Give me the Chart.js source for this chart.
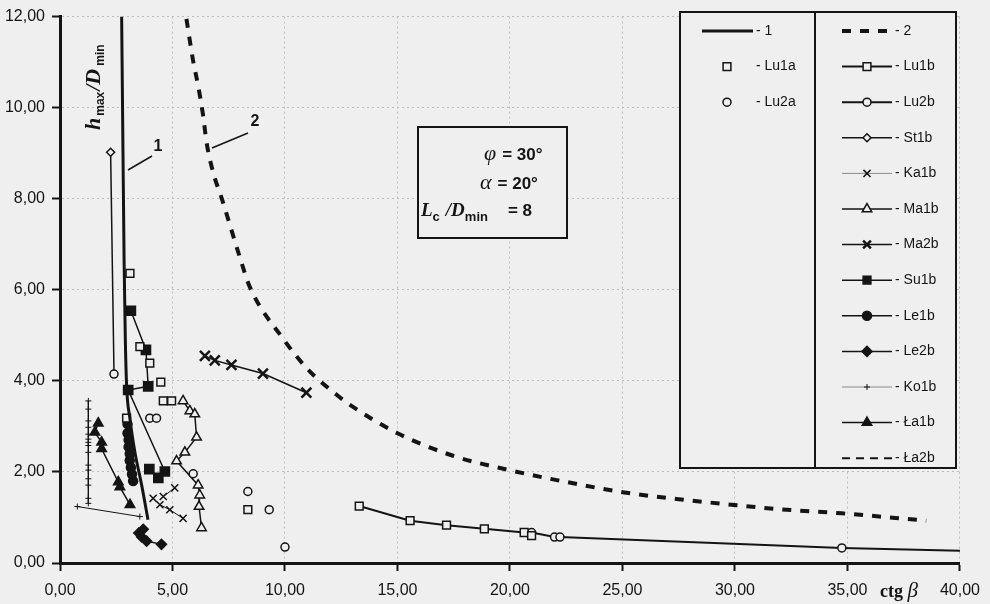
<!DOCTYPE html>
<html>
<head>
<meta charset="utf-8">
<script src="https://cdn.jsdelivr.net/npm/chart.js@4.4.1/dist/chart.umd.min.js"></script>
<style>
  html, body { margin: 0; padding: 0; background: #efefef; }
  canvas { display: block; }
</style>
</head>
<body>
<canvas id="chart" width="990" height="604"></canvas>
<script>
// osie
var xTicks = [0, 5, 10, 15, 20, 25, 30, 35, 40];
var yTicks = [0, 2, 4, 6, 8, 10, 12];

// krzywe graniczne 1 i 2
var c1X = [2.74, 2.80, 2.85, 2.90, 2.96, 3.10, 3.33, 3.63, 3.91];
var c1Y = [12.0, 9.0, 6.6, 5.0, 3.9, 3.2, 2.43, 1.71, 0.95];
var c2X = [5.62, 5.92, 6.14, 6.36, 6.51, 6.80, 7.18, 7.99, 8.43, 9.91, 11.02, 12.28, 12.87, 15.0, 17.5, 19.97, 22.5, 25.08, 27.5, 29.65, 32.0, 34.75, 38.5];
var c2Y = [11.95, 11.02, 10.48, 9.83, 9.25, 8.59, 8.02, 6.72, 6.07, 4.93, 4.25, 3.70, 3.48, 2.85, 2.35, 2.04, 1.78, 1.55, 1.40, 1.29, 1.18, 1.09, 0.93];

// pomiary
var lu1aX = [3.11, 3.55, 3.99, 4.48, 4.59, 4.96, 2.96, 8.35];
var lu1aY = [6.36, 4.75, 4.39, 3.97, 3.56, 3.56, 3.18, 1.17];
var lu2aX = [3.99, 4.29, 5.92, 8.35, 9.30, 10.0];
var lu2aY = [3.18, 3.18, 1.96, 1.57, 1.17, 0.35];
var lu1bX = [13.3, 15.56, 17.18, 18.86, 20.63, 20.96];
var lu1bY = [1.25, 0.93, 0.83, 0.75, 0.67, 0.60];
var lu2bX = [20.96, 21.98, 22.22, 34.75, 40.0];
var lu2bY = [0.67, 0.57, 0.57, 0.33, 0.27];
var st1bX = [2.25, 2.40];
var st1bY = [9.02, 4.15];
var ka1bX = [4.14, 4.44, 4.88, 5.47, null, 4.59, 5.10];
var ka1bY = [1.42, 1.28, 1.17, 0.98, null, 1.46, 1.65];
var ma1bX = [5.47, 5.77, 5.99, 6.07, 5.55, 5.18, 6.14, 6.21, 6.18, 6.29];
var ma1bY = [3.56, 3.34, 3.27, 2.76, 2.43, 2.24, 1.71, 1.49, 1.24, 0.77];
var ma2bX = [6.44, 6.88, 7.62, 9.02, 10.95];
var ma2bY = [4.55, 4.45, 4.35, 4.16, 3.74];
var su1bX = [3.15, 3.82, 3.92, 3.03, 4.66, 4.37, 3.97];
var su1bY = [5.54, 4.68, 3.88, 3.80, 2.01, 1.87, 2.06];
var le1bX = [3.00, 3.00, 3.05, 3.05, 3.10, 3.10, 3.15, 3.20, 3.25];
var le1bY = [3.05, 2.85, 2.70, 2.55, 2.40, 2.25, 2.10, 1.95, 1.80];
var le2bX = [3.70, 3.50, 3.63, 3.85, 4.51];
var le2bY = [0.74, 0.66, 0.57, 0.48, 0.41];
var ko1bX = [1.26, 1.26, 1.26, 1.26, 1.26, 1.26, 1.26, 1.26, 1.26, 1.26, 1.26, 1.26, 1.26, 1.26, 1.26, null, 0.77, 3.55];
var ko1bY = [3.56, 3.38, 3.12, 2.98, 2.83, 2.72, 2.65, 2.58, 2.43, 2.15, 2.04, 1.85, 1.71, 1.42, 1.31, null, 1.24, 1.02];
var la1bX = [1.70, 1.55, 1.85, 1.85, 2.59, 2.66, 3.11];
var la1bY = [3.07, 2.87, 2.65, 2.51, 1.78, 1.67, 1.28];
var la2bX = [];
var la2bY = [];

var BG = '#efefef';
var INK = '#141414';

function pts(xs, ys) {
  var out = [], lastX = 0;
  for (var i = 0; i < xs.length; i++) {
    if (xs[i] === null) { out.push({ x: lastX, y: null }); continue; }
    lastX = xs[i];
    out.push({ x: xs[i], y: ys[i] });
  }
  return out;
}

function series(label, xs, ys, o) {
  var d = {
    label: label,
    data: pts(xs, ys),
    showLine: true,
    borderColor: INK,
    borderWidth: 1.5,
    pointBorderColor: INK,
    pointBackgroundColor: BG,
    pointBorderWidth: 1.5,
    pointRadius: 5,
    pointHoverRadius: 5,
    pointStyle: 'circle',
    spanGaps: false
  };
  for (var k in o) d[k] = o[k];
  return d;
}

var datasets = [
  series('1', c1X, c1Y, { borderWidth: 3, pointRadius: 0, cubicInterpolationMode: 'monotone', col: 0, row: 0 }),
  series('2', c2X, c2Y, { borderWidth: 4, borderDash: [9, 9], pointRadius: 0, cubicInterpolationMode: 'monotone', col: 1, row: 0 }),
  series('Lu1a', lu1aX, lu1aY, { showLine: false, borderWidth: 0, pointStyle: 'rect', pointRadius: 5.5, col: 0, row: 1 }),
  series('Lu2a', lu2aX, lu2aY, { showLine: false, borderWidth: 0, pointRadius: 4, col: 0, row: 2 }),
  series('Lu1b', lu1bX, lu1bY, { borderWidth: 2, pointStyle: 'rect', pointRadius: 5.5, col: 1, row: 1 }),
  series('Lu2b', lu2bX, lu2bY, { borderWidth: 2, pointRadius: function (c) { return c.dataIndex === c.dataset.data.length - 1 ? 0 : 4; }, legendRadius: 4, col: 1, row: 2 }),
  series('St1b', st1bX, st1bY, { pointStyle: ['rectRot', 'circle'], pointRadius: 4, legendStyle: 'rectRot', col: 1, row: 3 }),
  series('Ka1b', ka1bX, ka1bY, { borderWidth: 1, pointStyle: 'crossRot', pointRadius: 5, col: 1, row: 4 }),
  series('Ma1b', ma1bX, ma1bY, { pointStyle: 'triangle', pointRadius: 5.5, col: 1, row: 5 }),
  series('Ma2b', ma2bX, ma2bY, { pointStyle: 'crossRot', pointRadius: 7, pointBorderWidth: 2.5, col: 1, row: 6 }),
  series('Su1b', su1bX, su1bY, { pointStyle: 'rect', pointRadius: 6.5, pointBackgroundColor: INK, col: 1, row: 7 }),
  series('Le1b', le1bX, le1bY, { pointRadius: 4.5, pointBackgroundColor: INK, col: 1, row: 8 }),
  series('Le2b', le2bX, le2bY, { pointStyle: 'rectRot', pointRadius: 5, pointBackgroundColor: INK, col: 1, row: 9 }),
  series('Ko1b', ko1bX, ko1bY, { borderWidth: 1, pointStyle: 'cross', pointRadius: 3, pointBorderWidth: 1, col: 1, row: 10 }),
  series('Ła1b', la1bX, la1bY, { pointStyle: 'triangle', pointRadius: 5.5, pointBackgroundColor: INK, col: 1, row: 11 }),
  series('Ła2b', la2bX, la2bY, { borderWidth: 2, borderDash: [8, 6], pointRadius: 0, col: 1, row: 12 })
];

function fmt(v) { return Number(v).toFixed(2).replace('.', ','); }

function run(ctx, parts, x, y) {
  parts.forEach(function (p) {
    ctx.font = p[1];
    ctx.fillText(p[0], x, y + (p[2] || 0));
    x += ctx.measureText(p[0]).width + (p[3] || 0);
  });
  return x;
}

var SERIF = '"Liberation Serif", "DejaVu Serif", serif';
var SANS = '"Liberation Sans", Arial, sans-serif';

// ramki, legenda, opisy
var decor = {
  id: 'decor',
  afterDatasetsDraw: function (chart) {
    var ctx = chart.ctx;
    ctx.save();
    ctx.fillStyle = INK;
    ctx.strokeStyle = INK;

    // odnośniki 1 i 2
    ctx.lineWidth = 1.5;
    ctx.beginPath();
    ctx.moveTo(128, 170); ctx.lineTo(152, 156);
    ctx.moveTo(212, 148); ctx.lineTo(248, 133);
    ctx.stroke();
    ctx.font = 'bold 16px ' + SANS;
    ctx.textAlign = 'center';
    ctx.textBaseline = 'middle';
    ctx.fillText('1', 158, 147);
    ctx.fillText('2', 255, 122);
    ctx.textAlign = 'left';
    ctx.textBaseline = 'alphabetic';

    // ramka parametrów
    ctx.fillStyle = BG;
    ctx.fillRect(418, 127, 149, 111);
    ctx.lineWidth = 2;
    ctx.strokeRect(418, 127, 149, 111);
    ctx.fillStyle = INK;
    run(ctx, [['φ', 'italic 22px ' + SERIF, 0, 6], ['= 30°', 'bold 17px ' + SANS]], 484, 160);
    run(ctx, [['α', 'italic 22px ' + SERIF, 0, 6], ['= 20°', 'bold 17px ' + SANS]], 480, 189);
    run(ctx, [['L', 'bold italic 19px ' + SERIF], ['c', 'bold 13px ' + SANS, 5, 6], ['/D', 'bold italic 19px ' + SERIF], ['min', 'bold 13px ' + SANS, 5, 20], ['= 8', 'bold 17px ' + SANS]], 421, 216);

    // legenda
    var L = 680, T = 12, W = 276, H = 456, MID = 815;
    ctx.fillStyle = BG;
    ctx.fillRect(L, T, W, H);
    ctx.lineWidth = 2;
    ctx.strokeRect(L, T, W, H);
    ctx.beginPath(); ctx.moveTo(MID, T); ctx.lineTo(MID, T + H); ctx.stroke();
    ctx.font = '14px ' + SANS;
    ctx.textBaseline = 'middle';
    chart.data.datasets.forEach(function (ds) {
      var y = 31 + ds.row * 35.6;
      var x1 = ds.col === 0 ? 702 : 842, x2 = ds.col === 0 ? 753 : 892;
      var cx = ds.col === 0 ? 727 : 867;
      var tx = ds.col === 0 ? 756 : 895;
      if (ds.showLine && ds.borderWidth) {
        ctx.save();
        ctx.strokeStyle = ds.borderWidth < 1.5 ? '#8a8a8a' : ds.borderColor;
        ctx.lineWidth = ds.borderWidth;
        ctx.setLineDash(ds.borderDash || []);
        ctx.beginPath(); ctx.moveTo(x1, y); ctx.lineTo(x2, y); ctx.stroke();
        ctx.restore();
      }
      var r = typeof ds.pointRadius === 'number' ? ds.pointRadius : ds.legendRadius;
      if (r) {
        ctx.save();
        ctx.fillStyle = ds.pointBackgroundColor;
        ctx.strokeStyle = ds.pointBorderColor;
        ctx.lineWidth = ds.pointBorderWidth;
        Chart.helpers.drawPoint(ctx, {
          pointStyle: ds.legendStyle || ds.pointStyle,
          radius: Math.min(r, 5.5),
          borderWidth: ds.pointBorderWidth,
          rotation: 0
        }, cx, y);
        ctx.restore();
      }
      ctx.fillStyle = INK;
      ctx.fillText('- ' + ds.label, tx, y);
    });
    ctx.textBaseline = 'alphabetic';

    // opis osi Y (pionowo)
    ctx.save();
    ctx.translate(100, 84);
    ctx.rotate(-Math.PI / 2);
    run(ctx, [['h', 'bold italic 22px ' + SERIF, 0, 2], ['max', 'bold 12px ' + SANS, 4, 1], ['/D', 'bold italic 22px ' + SERIF, 0, 3], ['min', 'bold 12px ' + SANS, 4]], -46, 0);
    ctx.restore();

    // opis osi X
    run(ctx, [['ctg ', 'bold 18px ' + SERIF], ['β', 'italic 21px ' + SERIF]], 880, 597);

    ctx.restore();
  }
};

var ctx = document.getElementById('chart').getContext('2d');
Chart.defaults.font.family = SANS;
Chart.defaults.color = INK;

var chart = new Chart(ctx, {
  type: 'scatter',
  data: { datasets: datasets },
  options: {
    responsive: false,
    animation: false,
    layout: { padding: { top: 10, right: 29, left: 0, bottom: 0 } },
    plugins: {
      legend: { display: false },
      tooltip: { enabled: false }
    },
    scales: {
      x: {
        type: 'linear',
        min: 0,
        max: 40,
        afterBuildTicks: function (s) { s.ticks = xTicks.map(function (v) { return { value: v }; }); },
        afterFit: function (s) { s.height = 41; },
        grid: { color: '#bdbdbd', lineWidth: 1, tickLength: 8, tickColor: INK, tickWidth: 2 },
        border: { display: true, color: INK, width: 3, dash: [2, 3] },
        ticks: { font: { size: 16 }, padding: 10, maxRotation: 0, callback: fmt }
      },
      y: {
        type: 'linear',
        min: 0,
        max: 12,
        afterBuildTicks: function (s) { s.ticks = yTicks.map(function (v) { return { value: v }; }); },
        afterFit: function (s) { s.width = 60; },
        grid: { color: '#bdbdbd', lineWidth: 1, tickLength: 8, tickColor: INK, tickWidth: 2 },
        border: { display: true, color: INK, width: 3, dash: [2, 3] },
        ticks: { font: { size: 16 }, padding: 7, callback: fmt }
      }
    }
  },
  plugins: [decor]
});
</script>
</body>
</html>
